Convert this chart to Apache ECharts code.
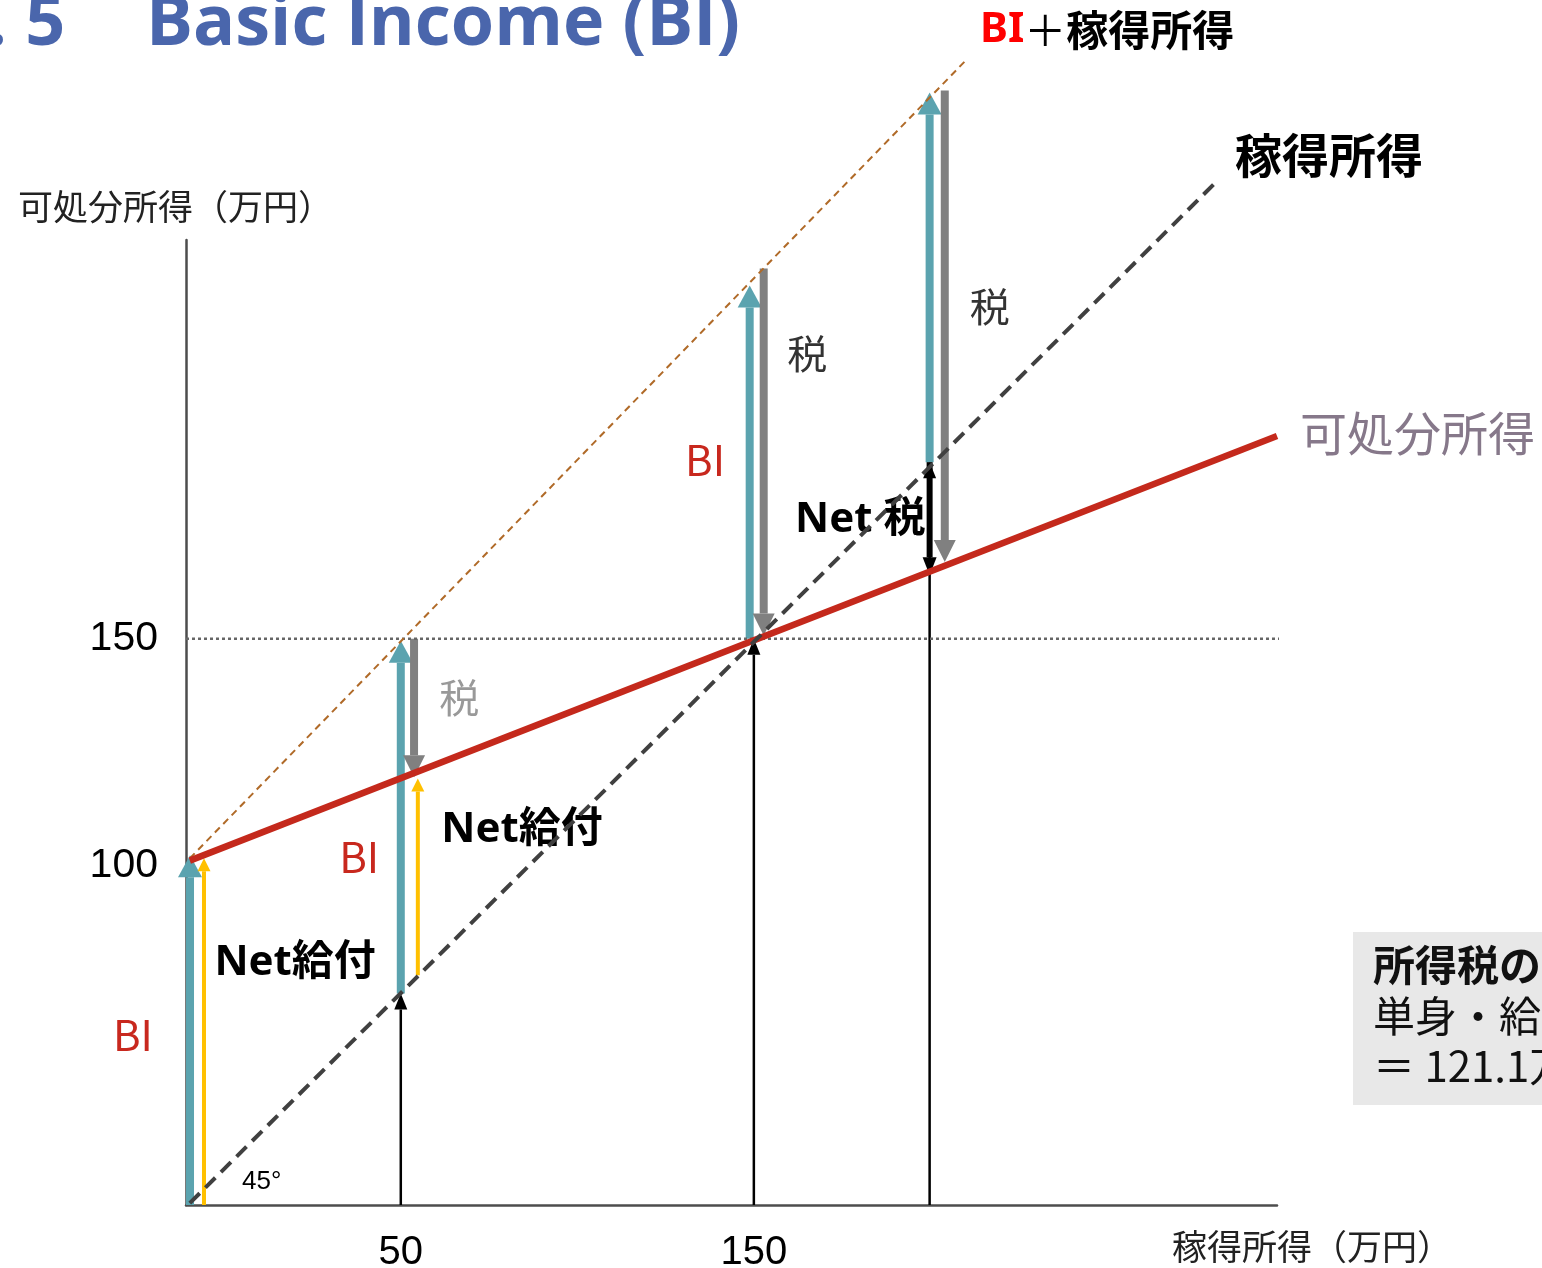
<!DOCTYPE html>
<html>
<head>
<meta charset="utf-8">
<script src="https://cdn.jsdelivr.net/npm/echarts@6/dist/echarts.min.js"></script>
<style>
html,body{margin:0;padding:0;background:#fff;overflow:hidden}
#c{width:1542px;height:1268px}
</style>
</head>
<body>
<div id="c"></div>
<script>
// ---- schematic data (diagram units) ----
const xTickPos = [56.7, 149.9];
const xTickLabels = ['50', '150'];
const yTickPos = [89.6, 149.6];
const yTickLabels = ['100', '150'];

// disposable income line (red)
const disposableX = [1, 288];
const disposableY = [91, 203.2];
// earned income 45-degree line
const earnedX = [1, 272.4];
const earnedY = [0.5, 270.8];
// BI + earned income line
const biPlusX = [1, 205.5];
const biPlusY = [91.6, 302.1];
// reference level 150
const refX = [0, 291.3];
const refY = [149.6, 149.6];

// arrows: x, from, to, kind (0 BI, 1 tax, 2 net benefit, 3 earned, 4 net tax)
const arrowX    = [1.06, 56.7, 148.8, 196.3, 60.2, 152.5, 200.3, 4.75, 61.2, 196.3, 56.7, 149.9, 196.3];
const arrowFrom = [0, 55.9, 149.6, 196.3, 149.6, 247.5, 294.5, 0, 60.7, 196.3, 0, 0, 0];
const arrowTo   = [92.4, 149.1, 243, 294, 113, 150.5, 169.9, 91.6, 112.7, 166.4, 55.9, 149.6, 196.3];
const arrowKind = [0, 0, 0, 0, 1, 1, 1, 2, 2, 4, 3, 3, 3];

// annotations
const annoX    = [-14, 45.7, 137, 72.1, 164, 212.2, 28.8, 88.7, 178, 20];
const annoY    = [44.9, 91.9, 196.8, 134, 225, 237.3, 63.9, 99.1, 181, 6.1];
const annoText = ['BI', 'BI', 'BI', '税', '税', '税', 'Net給付', 'Net給付', 'Net 税', '45°'];
const annoKind = [0, 0, 0, 1, 2, 2, 3, 3, 3, 4];

// ---- styles ----
const CJK = '"Noto Sans CJK JP", "Noto Sans", sans-serif';
const LAT = '"Liberation Sans", Arial, sans-serif';
const arrowStyles = [
  {color: '#5BA3AF', shaft: 8, headW: 24, headL: 22},
  {color: '#808080', shaft: 8, headW: 22, headL: 22},
  {color: '#FFC000', shaft: 4, headW: 13, headL: 13},
  {color: '#000000', shaft: 2.5, headW: 13, headL: 16},
  {color: '#000000', shaft: 6, headW: 14, headL: 18}
];
const annoStyles = [
  {fill: '#C8281E', font: 'normal 42px ' + CJK},
  {fill: '#999999', font: 'normal 40px ' + CJK},
  {fill: '#333333', font: 'normal 40px ' + CJK},
  {fill: '#000000', font: 'bold 42px "Noto Sans", "Noto Sans CJK JP", sans-serif'},
  {fill: '#000000', font: 'normal 26px ' + LAT}
];

const zip = (xs, ys) => xs.map((x, i) => [x, ys[i]]);

function renderArrow(params, api) {
  const x = api.value(0), a = api.value(1), b = api.value(2), k = api.value(3);
  const s = arrowStyles[k];
  const p0 = api.coord([x, a]);
  const p1 = api.coord([x, b]);
  const dir = p1[1] < p0[1] ? -1 : 1;
  const base = p1[1] - dir * s.headL;
  const top = Math.min(p0[1], base);
  const h = Math.abs(base - p0[1]);
  return {
    type: 'group',
    children: [
      {type: 'rect', shape: {x: p0[0] - s.shaft / 2, y: top, width: s.shaft, height: h}, style: {fill: s.color}},
      {type: 'polygon', shape: {points: [[p1[0], p1[1]], [p1[0] - s.headW / 2, base], [p1[0] + s.headW / 2, base]]}, style: {fill: s.color}}
    ]
  };
}

function renderAnno(params, api) {
  const i = params.dataIndex;
  const p = api.coord([api.value(0), api.value(1)]);
  const st = annoStyles[annoKind[i]];
  return {
    type: 'text', x: p[0], y: p[1],
    style: {text: annoText[i], fill: st.fill, font: st.font, align: 'center', verticalAlign: 'middle'}
  };
}

const chart = echarts.init(document.getElementById('c'), null, {renderer: 'canvas'});
chart.setOption({
  animation: false,
  backgroundColor: '#ffffff',
  grid: {left: 186, top: 240, width: 1091, height: 965, containLabel: false, outerBoundsMode: 'none'},
  xAxis: {
    type: 'value', min: 0, max: 288,
    axisLine: {show: true, lineStyle: {color: '#4d4d4d', width: 2.5}},
    axisTick: {show: false},
    splitLine: {show: false},
    axisLabel: {
      customValues: xTickPos, margin: 28,
      formatter: v => xTickLabels[xTickPos.indexOf(v)] || '',
      fontSize: 40, color: '#000', fontFamily: LAT
    }
  },
  yAxis: {
    type: 'value', min: 0, max: 255,
    axisLine: {show: true, lineStyle: {color: '#4d4d4d', width: 2.5}},
    axisTick: {show: false},
    splitLine: {show: false},
    axisLabel: {
      customValues: yTickPos, margin: 28,
      formatter: v => yTickLabels[yTickPos.indexOf(v)] || '',
      fontSize: 41, color: '#000', fontFamily: LAT
    }
  },
  graphic: [
    {type: 'text', x: -13, y: 25, style: {text: '. 5', fill: '#4a66ac', font: 'bold 70px "Open Sans", "Noto Sans", sans-serif', align: 'left', verticalAlign: 'middle'}},
    {type: 'text', x: 146, y: 25, style: {text: 'Basic Income (BI)', fill: '#4a66ac', font: 'bold 70px "Open Sans", "Noto Sans", sans-serif', align: 'left', verticalAlign: 'middle'}},
    {type: 'text', x: 980, y: 30, style: {
      text: '{a|BI}{b|＋}{c|稼得所得}', align: 'left', verticalAlign: 'middle',
      rich: {
        a: {fill: '#FF0000', fontSize: 42, fontWeight: 'bold', fontFamily: '"Noto Sans", sans-serif'},
        b: {fill: '#000000', fontSize: 42, fontWeight: 'normal', fontFamily: CJK},
        c: {fill: '#000000', fontSize: 42, fontWeight: 'bold', fontFamily: CJK}
      }
    }},
    {type: 'text', x: 1235, y: 155, style: {text: '稼得所得', fill: '#000', font: 'bold 47px ' + CJK, align: 'left', verticalAlign: 'middle'}},
    {type: 'text', x: 1300, y: 433, style: {text: '可処分所得', fill: '#86788a', font: 'normal 47px ' + CJK, align: 'left', verticalAlign: 'middle'}},
    {type: 'text', x: 18, y: 207, style: {text: '可処分所得（万円）', fill: '#222', font: 'normal 35px ' + CJK, align: 'left', verticalAlign: 'middle'}},
    {type: 'text', x: 1172, y: 1247, style: {text: '稼得所得（万円）', fill: '#222', font: 'normal 35px ' + CJK, align: 'left', verticalAlign: 'middle'}},
    {type: 'rect', shape: {x: 1353, y: 932, width: 200, height: 173}, style: {fill: '#e8e8e8'}},
    {type: 'text', x: 1373, y: 965, style: {text: '所得税の', fill: '#111', font: 'bold 42px ' + CJK, align: 'left', verticalAlign: 'middle'}},
    {type: 'text', x: 1373, y: 1016, style: {text: '単身・給', fill: '#111', font: 'normal 42px ' + CJK, align: 'left', verticalAlign: 'middle'}},
    {type: 'text', x: 1373, y: 1066, style: {text: '＝ 121.1万', fill: '#111', font: 'normal 42px ' + CJK, align: 'left', verticalAlign: 'middle'}}
  ],
  series: [
    {type: 'line', data: zip(refX, refY), showSymbol: false, symbol: 'none', clip: false, silent: true,
     lineStyle: {color: '#666666', width: 2.5, type: [3, 3]}},
    {type: 'line', data: zip(biPlusX, biPlusY), showSymbol: false, symbol: 'none', clip: false, silent: true,
     lineStyle: {color: '#b06a28', width: 2, type: [7, 5]}},
    {type: 'line', data: zip(disposableX, disposableY), showSymbol: false, symbol: 'none', clip: false, silent: true,
     lineStyle: {color: '#C4291C', width: 6.5}},
    {type: 'custom', renderItem: renderArrow, clip: false, silent: true,
     encode: {x: 0, y: [1, 2]},
     data: arrowX.map((x, i) => [x, arrowFrom[i], arrowTo[i], arrowKind[i]])},
    {type: 'line', data: zip(earnedX, earnedY), showSymbol: false, symbol: 'none', clip: false, silent: true,
     lineStyle: {color: '#404040', width: 4, type: [14, 8]}},
    {type: 'custom', renderItem: renderAnno, clip: false, silent: true,
     encode: {x: 0, y: 1},
     data: annoX.map((x, i) => [x, annoY[i]])}
  ]
});
</script>
</body>
</html>
